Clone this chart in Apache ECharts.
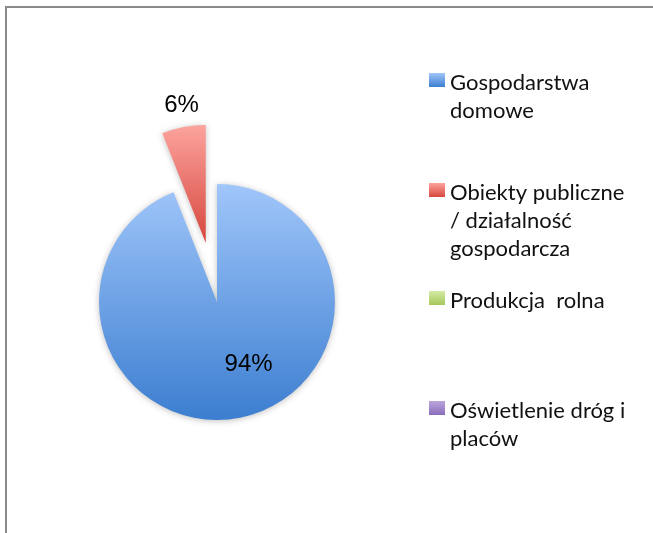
<!DOCTYPE html>
<html>
<head>
<meta charset="utf-8">
<script src="https://cdn.jsdelivr.net/npm/echarts@6/dist/echarts.min.js"></script>
<style>
  html, body { margin: 0; padding: 0; background: #fff; }
  #frame {
    position: absolute; left: 5px; top: 6px;
    width: 700px; height: 600px;
    border-top: 2px solid #8a8a8a; border-left: 2px solid #8a8a8a;
  }
  #chart { position: absolute; left: 0; top: 0; width: 653px; height: 533px; }
</style>
</head>
<body>
<div id="frame"></div>
<div id="chart"></div>
<script>
// dane
const categories = ['Gospodarstwa domowe', 'Obiekty publiczne / działalność gospodarcza', 'Produkcja rolna', 'Oświetlenie dróg i placów']
const legendLines = [
    ['Gospodarstwa', 'domowe'],
    ['Obiekty publiczne', '/ działalność', 'gospodarcza'],
    ['Produkcja  rolna'],
    ['Oświetlenie dróg i', 'placów']
]
const values = [94, 6, 0, 0]

// srodek ikony kazdej pozycji legendy
const legendIconY = [80, 190, 298, 408]

const gradients = [
    ['#a0c6fa', '#3c7ed0'],
    ['#fca39d', '#d6473d'],
    ['#d4eaa4', '#a5c85a'],
    ['#bca6dc', '#8a6cbc']
]

const LINE_H = 28
const TEXT_SHIFT = 3 // pierwsza linia troche nizej niz ikona

const chart = echarts.init(document.getElementById('chart'))

function grad (c) {
    return new echarts.graphic.LinearGradient(0, 0, 0, 1, [
        { offset: 0, color: c[0] },
        { offset: 1, color: c[1] }
    ])
}

// tekst jest centrowany na ikonie, wiec nad nim dokladamy pusta linie (pad)
const legends = categories.map((name, i) => {
    const n = legendLines[i].length
    const pad = (n - 1) * LINE_H + 2 * TEXT_SHIFT
    return {
        data: [name],
        left: 429,
        top: legendIconY[i] - (pad + n * LINE_H) / 2,
        padding: 0,
        orient: 'vertical',
        icon: 'rect',
        itemWidth: 16,
        itemHeight: 14,
        itemStyle: { borderWidth: 0, shadowBlur: 0 },
        selectedMode: false,
        formatter: () => '{pad| }\n' + legendLines[i].join('\n'),
        textStyle: {
            fontFamily: 'Lato',
            fontSize: 22,
            color: '#111',
            lineHeight: LINE_H,
            rich: {
                pad: { lineHeight: pad, fontSize: 4 }
            }
        }
    }
})

const seriesData = categories.map((name, i) => {
    const item = {
        name: name,
        value: values[i],
        itemStyle: { color: grad(gradients[i]) },
        label: { show: false }
    }
    if (i === 0) {
        item.label = { show: true, position: 'inside' }
    }
    if (i === 1) {
        item.selected = true
        item.label = { show: true, position: 'outside' }
    }
    return item
})

const option = {
    animation: false,
    color: gradients.map(g => g[0]),
    legend: legends,
    series: [{
        type: 'pie',
        center: [217, 302],
        radius: 118,
        startAngle: 90,
        clockwise: true,
        selectedMode: 'single',
        selectedOffset: 60,
        avoidLabelOverlap: false,
        itemStyle: {
            borderWidth: 0,
            shadowBlur: 6,
            shadowColor: 'rgba(0,0,0,0.25)',
            shadowOffsetY: 1
        },
        emphasis: { disabled: true },
        label: {
            formatter: '{d}%',
            fontFamily: 'Liberation Sans',
            fontSize: 24,
            color: '#000'
        },
        labelLine: { show: false, length: 4, length2: 0 },
        labelLayout: function (params) {
            if (params.dataIndex === 0) return { dx: 20, dy: 1 }
            if (params.dataIndex === 1) return { dx: 21, dy: -18 }
            return {}
        },
        data: seriesData
    }]
}
chart.setOption(option)
</script>
</body>
</html>
